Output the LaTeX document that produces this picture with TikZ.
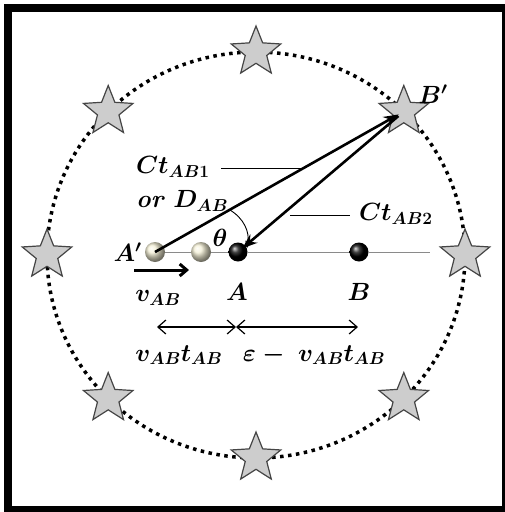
\documentclass[tikz,border=0pt]{standalone}
\usepackage{amsmath,amssymb}
\usepackage{xcolor}
\usepackage{tikz}
\usetikzlibrary{positioning,arrows.meta,shapes.geometric,calc}
\definecolor{cgris}{HTML}{CDCDCD}
\definecolor{cborde}{HTML}{454545}
\definecolor{ccrema}{HTML}{F4F0D6}
\definecolor{clinea}{HTML}{8A8A8A}
\tikzset{
  estrella/.style={star, star points=5, star point ratio=2.3, minimum size=52pt,
    draw=cborde, fill=cgris, line width=1.2pt, inner sep=0pt},
  bolac/.style={circle, minimum size=20pt, inner sep=0pt, shading=ball, ball color=ccrema},
  bolan/.style={circle, minimum size=19pt, inner sep=0pt, shading=ball, ball color=black},
  flecha/.style={-{Stealth[length=15pt,width=11pt]}, line width=2.6pt},
  cota/.style={{Straight Barb[length=8pt,width=14pt]}-{Straight Barb[length=8pt,width=14pt]}, line width=1.2pt},
  etq/.style={font=\fontsize{24}{28}\selectfont\boldmath, inner sep=1pt},
}

\begin{document}
\begin{tikzpicture}[x=1pt,y=-1pt]
  \useasboundingbox (0,0) rectangle (505,512);
  % marco
  \fill[black] (4,4) rectangle (505,512);
  \fill[white] (12,12) rectangle (502,506);
  % circulo punteado y estrellas
  \coordinate (O) at (256,255);
  \draw[line width=3.5pt, dash pattern=on 3.5pt off 4.5pt] (O) ellipse [x radius=209, y radius=203];
  \foreach \a/\n in {0/e0,-45/eBp,-90/e90,-135/e135,180/e180,135/e225,90/e270,45/e315}
    \node[estrella] (\n) at ($(O)+(\a:209 and 203)$) {};
  % eje y bolas
  \node[bolac] (Ap) at (155,252) {};
  \node[bolac] (Am) at (201,252) {};
  \node[bolan] (A) at (238,252) {};
  \node[bolan] (B) at (359,252) {};
  \coordinate (fin) at (430,252);
  \draw[clinea, line width=0.8pt] (Ap.east) -- (Am.west) (Am.east) -- (A.west) (A.east) -- (B.west) (B.east) -- (fin);
  % flechas principales
  \draw[flecha, shorten >=6pt] (Ap.center) -- (eBp.center);
  \draw[flecha, shorten <=7pt, shorten >=-4pt] (eBp.center) -- (A);
  \draw[-{Stealth[length=7pt,width=6pt]}, line width=0.9pt] ($(Ap)!0.3!(eBp)$) to[bend left=35] ([shift={(9,-4)}]A.center);
  % velocidad
  \coordinate (v0) at (134,270); \coordinate (v1) at (189,270);
  \draw[-{Straight Barb[length=7pt,width=12pt]}, line width=3pt] (v0) -- (v1);
  % etiquetas
  \node[etq, left=2pt of Ap] (lAp) {$A'$};
  \node[etq] (lBp) at (433,94) {$B'$};
  \node[etq] (lv) at (158,298) {$v_{AB}$};
  \node[etq] (lA) at (237,292) {$A$};
  \node[etq] (lB) at (359,292) {$B$};
  \node[etq] (lth) at (220,238) {$\theta$};
  \node[etq, anchor=west] (lc1) at (135,167) {$Ct_{AB\mathbf{1}}$};
  \node[etq, anchor=west] (lor) at (135,201) {$\mathit{or}\ D_{AB}$};
  \node[etq, anchor=west] (lc2) at (358,214) {$Ct_{AB\mathbf{2}}$};
  \coordinate (g1a) at (221,168); \coordinate (g1b) at (304,168);
  \coordinate (g2a) at (290,215);
  \draw[line width=0.9pt] (g1a) -- (g1b);
  \draw[line width=0.9pt] (g2a) -- ([xshift=-8pt]lc2.west |- g2a);
  % cotas
  \coordinate (c0) at (157,327); \coordinate (c1) at (236,327); \coordinate (c2) at (358,327);
  \draw[cota] (c0) -- (c1);
  \draw[cota] (c1) -- (c2);
  \node[etq] (lvt) at (179,355) {$v_{AB}t_{AB}$};
  \node[etq] (let) at (314,355) {$\varepsilon -\ v_{AB}t_{AB}$};
\end{tikzpicture}
\end{document}
